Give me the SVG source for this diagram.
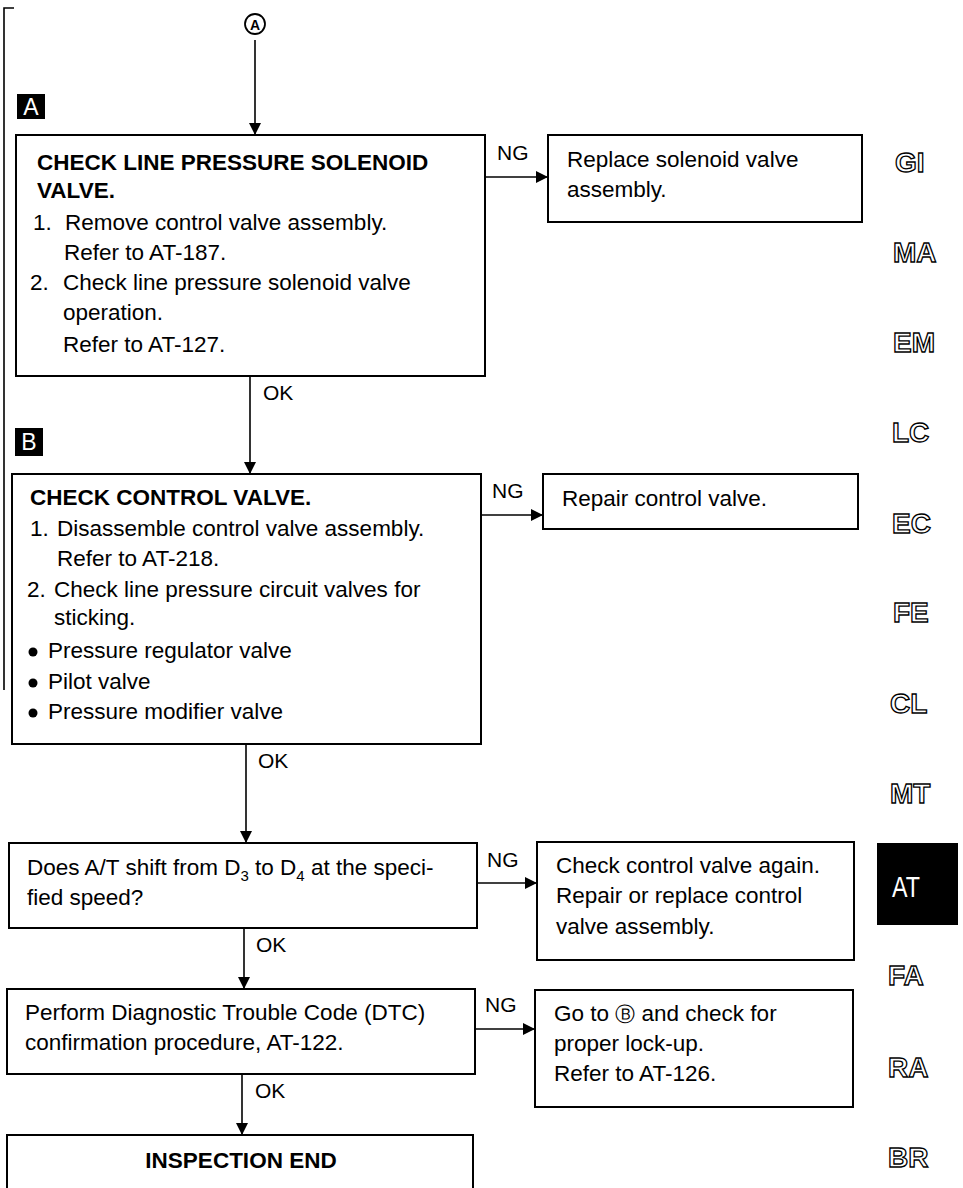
<svg xmlns="http://www.w3.org/2000/svg" width="963" height="1188" viewBox="0 0 963 1188">
<style>
.box{fill:#fff;stroke:#000;stroke-width:2}
.ln{fill:none;stroke:#000;stroke-width:1.6}
.t{font-family:"Liberation Sans",Arial,sans-serif;font-size:22.5px;fill:#000}
.b{font-family:"Liberation Sans",Arial,sans-serif;font-size:22.5px;font-weight:bold;fill:#000}
.lbl{font-family:"Liberation Sans",Arial,sans-serif;font-size:21px;fill:#000}
.tab{font-family:"Liberation Sans",Arial,sans-serif;font-size:28px;font-weight:bold;fill:#fff;stroke:#000;stroke-width:1.3}
.sq{fill:#000}
.sqt{font-family:"Liberation Sans",Arial,sans-serif;font-size:23px;fill:#fff;text-anchor:middle}
</style>
<defs>
<marker id="ah" viewBox="0 0 12 12" refX="12" refY="6" markerWidth="12" markerHeight="12" markerUnits="userSpaceOnUse" orient="auto">
<path d="M0,0 L12,6 L0,12 Z" fill="#000"/>
</marker>
</defs>
<rect width="963" height="1188" fill="#fff"/>
<!-- left margin rule -->
<path class="ln" d="M14,8 H4 V690"/>
<!-- side tabs -->
<g id="tabs">
<text class="tab" x="895" y="172">GI</text>
<text class="tab" x="893" y="262">MA</text>
<text class="tab" x="893" y="352">EM</text>
<text class="tab" x="892" y="442">LC</text>
<text class="tab" x="892" y="533">EC</text>
<text class="tab" x="893" y="622">FE</text>
<text class="tab" x="890" y="713">CL</text>
<text class="tab" x="890" y="803">MT</text>
<rect x="877" y="843" width="81" height="82" fill="#000"/>
<text x="892" y="897" font-family="Liberation Sans, Arial, sans-serif" font-size="30" fill="#fff" textLength="28" lengthAdjust="spacingAndGlyphs">AT</text>
<text class="tab" x="888" y="985">FA</text>
<text class="tab" x="888" y="1077">RA</text>
<text class="tab" x="888" y="1167">BR</text>
</g>
<!-- connectors -->
<g id="connectors">
<circle cx="255" cy="24" r="10" fill="#fff" stroke="#000" stroke-width="1.8"/>
<text x="255" y="29.5" text-anchor="middle" font-family="Liberation Sans, Arial, sans-serif" font-size="14" font-weight="bold">A</text>
<line class="ln" x1="255" y1="40" x2="255" y2="135" marker-end="url(#ah)"/>
<line class="ln" x1="485" y1="177" x2="548" y2="177" marker-end="url(#ah)"/>
<text class="lbl" x="497" y="160">NG</text>
<line class="ln" x1="250" y1="376" x2="250" y2="474" marker-end="url(#ah)"/>
<text class="lbl" x="263" y="400">OK</text>
<line class="ln" x1="481" y1="515" x2="543" y2="515" marker-end="url(#ah)"/>
<text class="lbl" x="492" y="498">NG</text>
<line class="ln" x1="246" y1="744" x2="246" y2="843" marker-end="url(#ah)"/>
<text class="lbl" x="258" y="768">OK</text>
<line class="ln" x1="477" y1="883" x2="537" y2="883" marker-end="url(#ah)"/>
<text class="lbl" x="487" y="867">NG</text>
<line class="ln" x1="244" y1="928" x2="244" y2="989" marker-end="url(#ah)"/>
<text class="lbl" x="256" y="952">OK</text>
<line class="ln" x1="475" y1="1029" x2="535" y2="1029" marker-end="url(#ah)"/>
<text class="lbl" x="485" y="1012">NG</text>
<line class="ln" x1="242" y1="1074" x2="242" y2="1135" marker-end="url(#ah)"/>
<text class="lbl" x="255" y="1098">OK</text>
</g>
<!-- section labels -->
<g id="labelA">
<rect class="sq" x="17" y="94" width="28" height="25"/>
<text class="sqt" x="31" y="115">A</text>
</g>
<g id="labelB">
<rect class="sq" x="15" y="428" width="28" height="28"/>
<text class="sqt" x="29" y="450">B</text>
</g>
<!-- node A -->
<g id="nodeA">
<rect class="box" x="16" y="135" width="469" height="241"/>
<text class="b" x="37" y="170">CHECK LINE PRESSURE SOLENOID</text>
<text class="b" x="37" y="198">VALVE.</text>
<text class="t" x="33" y="230">1.</text>
<text class="t" x="65" y="230">Remove control valve assembly.</text>
<text class="t" x="64" y="260">Refer to AT-187.</text>
<text class="t" x="30" y="290">2.</text>
<text class="t" x="63" y="290">Check line pressure solenoid valve</text>
<text class="t" x="63" y="320">operation.</text>
<text class="t" x="63" y="352">Refer to AT-127.</text>
</g>
<g id="nodeA_ng">
<rect class="box" x="548" y="135" width="314" height="87"/>
<text class="t" x="567" y="167">Replace solenoid valve</text>
<text class="t" x="567" y="197">assembly.</text>
</g>
<!-- node B -->
<g id="nodeB">
<rect class="box" x="12" y="474" width="469" height="270"/>
<text class="b" x="30" y="505">CHECK CONTROL VALVE.</text>
<text class="t" x="30" y="536">1.</text>
<text class="t" x="57" y="536">Disassemble control valve assembly.</text>
<text class="t" x="57" y="566">Refer to AT-218.</text>
<text class="t" x="27" y="597">2.</text>
<text class="t" x="54" y="597">Check line pressure circuit valves for</text>
<text class="t" x="54" y="625">sticking.</text>
<circle cx="33" cy="652" r="4.5"/>
<text class="t" x="48" y="658">Pressure regulator valve</text>
<circle cx="33" cy="683" r="4.5"/>
<text class="t" x="48" y="689">Pilot valve</text>
<circle cx="33" cy="713" r="4.5"/>
<text class="t" x="48" y="719">Pressure modifier valve</text>
</g>
<g id="nodeB_ng">
<rect class="box" x="543" y="474" width="315" height="55"/>
<text class="t" x="562" y="506">Repair control valve.</text>
</g>
<!-- node C -->
<g id="nodeC">
<rect class="box" x="9" y="843" width="468" height="85"/>
<text class="t" x="27" y="875">Does A/T shift from D<tspan font-size="15" dy="6">3</tspan><tspan dy="-6"> to D</tspan><tspan font-size="15" dy="6">4</tspan><tspan dy="-6"> at the speci-</tspan></text>
<text class="t" x="27" y="905">fied speed?</text>
</g>
<g id="nodeC_ng">
<rect class="box" x="537" y="842" width="317" height="118"/>
<text class="t" x="556" y="873">Check control valve again.</text>
<text class="t" x="556" y="903">Repair or replace control</text>
<text class="t" x="556" y="934">valve assembly.</text>
</g>
<!-- node D -->
<g id="nodeD">
<rect class="box" x="7" y="989" width="468" height="85"/>
<text class="t" x="25" y="1020">Perform Diagnostic Trouble Code (DTC)</text>
<text class="t" x="25" y="1050">confirmation procedure, AT-122.</text>
</g>
<g id="nodeD_ng">
<rect class="box" x="535" y="990" width="318" height="117"/>
<text class="t" x="554" y="1021">Go to <tspan font-family="DejaVu Sans, sans-serif" font-size="20">Ⓑ</tspan> and check for</text>
<text class="t" x="554" y="1051">proper lock-up.</text>
<text class="t" x="554" y="1081">Refer to AT-126.</text>
</g>
<!-- node E -->
<g id="nodeE">
<rect class="box" x="7" y="1135" width="466" height="80"/>
<text class="b" x="241" y="1168" text-anchor="middle">INSPECTION END</text>
</g>
</svg>
